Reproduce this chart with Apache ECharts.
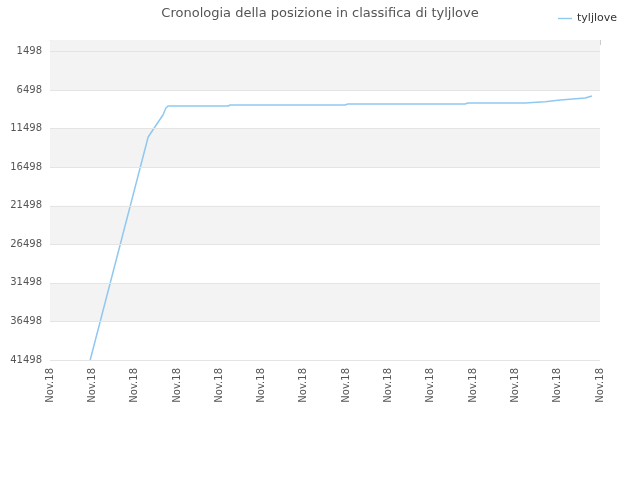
<!DOCTYPE html><html><head><meta charset="utf-8"><script src="https://cdn.jsdelivr.net/npm/echarts@6/dist/echarts.min.js"></script></head><body style="margin:0"><div id="c" style="width:640px;height:480px"></div><script>
const xLabels=["Nov.18","Nov.18","Nov.18","Nov.18","Nov.18","Nov.18","Nov.18","Nov.18","Nov.18","Nov.18","Nov.18","Nov.18","Nov.18","Nov.18"];
const yTicks=[1498,6498,11498,16498,21498,26498,31498,36498,41498];
const xs=[0.95,2.32,2.67,2.74,2.79,4.21,4.26,6.97,7.04,9.81,9.88,11.23,11.70,12.06,12.65,12.81];
const ys=[41498,12580,9726,8818,8559,8559,8430,8430,8300,8300,8170,8170,8000,7780,7520,7262];
const bands=[[0,6498],[11498,16498],[21498,26498],[31498,36498]];
const f='DejaVu Sans';
echarts.init(document.getElementById('c')).setOption({
 title:{text:'Cronologia della posizione in classifica di tyljlove',left:'center',top:2,textStyle:{fontFamily:f,fontSize:13,fontWeight:'normal',color:'#555'}},
 legend:{right:18,top:8,itemWidth:14,icon:'path://M0,0H10V1H0Z',textStyle:{fontFamily:f,fontSize:11,color:'#333'},data:['tyljlove']},
 grid:{left:50,right:40,top:40,bottom:120},
 xAxis:{type:'value',min:0,max:13,interval:1,axisLine:{lineStyle:{color:'#ddd'}},axisTick:{show:true,lineStyle:{color:'#ccc'}},splitLine:{show:false},
  axisLabel:{rotate:90,fontFamily:f,fontSize:10,color:'#555',formatter:v=>xLabels[v]}},
 yAxis:{type:'value',inverse:true,min:0,max:41498,axisLine:{show:false},splitLine:{show:false},
  axisTick:{show:false},axisLabel:{customValues:yTicks,fontFamily:f,fontSize:10,color:'#555',formatter:v=>String(v)}},
 series:[{name:'tyljlove',type:'line',symbol:'none',data:xs.map((x,i)=>[x,ys[i]]),lineStyle:{color:'#90c8f0',width:1.5},itemStyle:{color:'#90c8f0'},
  markArea:{silent:true,itemStyle:{color:'#f3f3f3'},data:bands.map(b=>[{yAxis:b[0]},{yAxis:b[1]}])},
  markLine:{silent:true,symbol:'none',label:{show:false},lineStyle:{color:'#e4e4e4',type:'solid',width:1},data:yTicks.map(v=>({yAxis:v}))}}]
});
</script></body></html>
